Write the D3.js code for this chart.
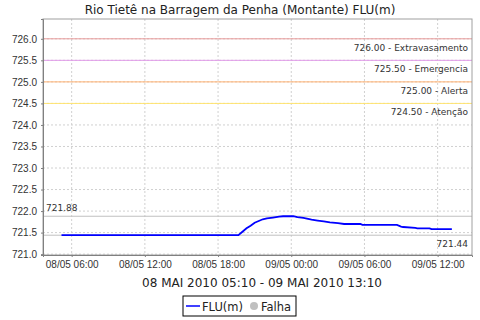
<!DOCTYPE html>
<html>
<head>
<meta charset="utf-8">
<script src="https://cdn.jsdelivr.net/npm/d3@7"></script>
<style>
  body { margin: 0; background: #fff; }
  svg { display: block; font-family: "DejaVu Sans", sans-serif; }
  .grid line { stroke: #d0d0d0; stroke-dasharray: 2,2; }
  .axis text { fill: #333; font-size: 10px; }
  .axis path, .axis line { stroke: #808080; }
</style>
</head>
<body>
<div id="chart"></div>
<script>
const TITLE = 'Rio Tietê na Barragem da Penha (Montante) FLU(m)';
const RANGE_LABEL = '08 MAI 2010 05:10 - 09 MAI 2010 13:10';

// FLU(m) readings (breakpoints)
const times = [
  '2010-05-08 05:10', '2010-05-08 19:40', '2010-05-08 20:00', '2010-05-08 20:20',
  '2010-05-08 20:40', '2010-05-08 21:00', '2010-05-08 21:20', '2010-05-08 21:40',
  '2010-05-08 22:00', '2010-05-08 22:30', '2010-05-08 23:00', '2010-05-08 23:20',
  '2010-05-09 00:10', '2010-05-09 00:30', '2010-05-09 01:00', '2010-05-09 01:40',
  '2010-05-09 02:10', '2010-05-09 02:40', '2010-05-09 03:10', '2010-05-09 03:50',
  '2010-05-09 04:20', '2010-05-09 05:40', '2010-05-09 05:50', '2010-05-09 08:40',
  '2010-05-09 09:00', '2010-05-09 09:10', '2010-05-09 10:10', '2010-05-09 10:20',
  '2010-05-09 11:20', '2010-05-09 11:30', '2010-05-09 13:10'
];
const levels = [
  721.44, 721.44, 721.52, 721.60,
  721.66, 721.73, 721.77, 721.81,
  721.83, 721.85, 721.87, 721.88,
  721.88, 721.86, 721.84, 721.80,
  721.78, 721.76, 721.74, 721.72,
  721.70, 721.70, 721.68, 721.68,
  721.64, 721.63, 721.61, 721.60,
  721.60, 721.58, 721.58
];

// alert thresholds
const thresholdValues = [726.00, 725.50, 725.00, 724.50];
const thresholdNames = ['Extravasamento', 'Emergencia', 'Alerta', 'Atenção'];
const thresholdColors = ['#e89a9a', '#e09ae8', '#ffb070', '#ffe470'];

const yTicks = [721.0, 721.5, 722.0, 722.5, 723.0, 723.5, 724.0, 724.5, 725.0, 725.5, 726.0];
const xTicks = ['2010-05-08 06:00', '2010-05-08 12:00', '2010-05-08 18:00',
                '2010-05-09 00:00', '2010-05-09 06:00', '2010-05-09 12:00'];
const xDomain = ['2010-05-08 03:39', '2010-05-09 14:49'];
const yDomain = [720.98, 726.46];

const W = 480, H = 320;
const plot = { left: 43, right: 472, top: 19, bottom: 255 };

const parse = d3.timeParse('%Y-%m-%d %H:%M');
const data = times.map((t, i) => ({ t: parse(t), v: levels[i] }));

const x = d3.scaleTime().domain(xDomain.map(parse)).range([plot.left, plot.right]);
const y = d3.scaleLinear().domain(yDomain).range([plot.bottom, plot.top]);

const svg = d3.select('#chart').append('svg').attr('width', W).attr('height', H);

// title
svg.append('text')
  .attr('x', 240).attr('y', 14)
  .attr('text-anchor', 'middle')
  .attr('font-size', 12)
  .attr('fill', '#222')
  .text(TITLE);

// gridlines
const grid = svg.append('g').attr('class', 'grid');
grid.selectAll('.gx').data(xTicks.map(parse)).enter().append('line')
  .attr('x1', d => x(d)).attr('x2', d => x(d))
  .attr('y1', plot.top).attr('y2', plot.bottom);
grid.selectAll('.gy').data(yTicks).enter().append('line')
  .attr('x1', plot.left).attr('x2', plot.right)
  .attr('y1', d => y(d)).attr('y2', d => y(d));

// threshold markers
const th = svg.append('g');
thresholdValues.forEach((v, i) => {
  th.append('line')
    .attr('x1', plot.left).attr('x2', plot.right)
    .attr('y1', y(v)).attr('y2', y(v))
    .attr('stroke', thresholdColors[i]);
  th.append('text')
    .attr('x', plot.right - 4).attr('y', y(v) + 12)
    .attr('text-anchor', 'end')
    .attr('font-size', 9)
    .attr('fill', '#333')
    .text(`${v.toFixed(2)} - ${thresholdNames[i]}`);
});

// max / min markers
const vMax = d3.max(levels), vMin = d3.min(levels);
[vMax, vMin].forEach(v => {
  svg.append('line')
    .attr('x1', plot.left).attr('x2', plot.right)
    .attr('y1', y(v)).attr('y2', y(v))
    .attr('stroke', '#c0c0c0');
});
svg.append('text')
  .attr('x', plot.left + 3).attr('y', y(vMax) - 5)
  .attr('font-size', 9).attr('fill', '#333')
  .text(vMax.toFixed(2));
svg.append('text')
  .attr('x', plot.right - 4).attr('y', y(vMin) + 12)
  .attr('text-anchor', 'end')
  .attr('font-size', 9).attr('fill', '#333')
  .text(vMin.toFixed(2));

// series
svg.append('path')
  .datum(data)
  .attr('fill', 'none')
  .attr('stroke', '#0000ff')
  .attr('stroke-width', 1.8)
  .attr('d', d3.line().x(d => x(d.t)).y(d => y(d.v)));

// plot frame
svg.append('rect')
  .attr('x', plot.left).attr('y', plot.top)
  .attr('width', plot.right - plot.left).attr('height', plot.bottom - plot.top)
  .attr('fill', 'none').attr('stroke', '#a0a0a0');

// axes
svg.append('g')
  .attr('class', 'axis')
  .attr('transform', `translate(${plot.left},0)`)
  .call(d3.axisLeft(y).tickValues(yTicks).tickFormat(d3.format('.1f')).tickSizeOuter(0).tickSize(2).tickPadding(4));
svg.append('g')
  .attr('class', 'axis')
  .attr('transform', `translate(0,${plot.bottom})`)
  .call(d3.axisBottom(x).tickValues(xTicks.map(parse)).tickFormat(d3.timeFormat('%d/%m %H:%M')).tickSizeOuter(0).tickSize(2).tickPadding(4));

svg.append('text')
  .attr('x', 262).attr('y', 287)
  .attr('text-anchor', 'middle')
  .attr('font-size', 12)
  .attr('fill', '#222')
  .text(RANGE_LABEL);

// legend
const lg = svg.append('g');
lg.append('rect')
  .attr('x', 183).attr('y', 296).attr('width', 113).attr('height', 20)
  .attr('fill', '#fff').attr('stroke', '#000');
lg.append('line')
  .attr('x1', 186).attr('x2', 200).attr('y1', 306).attr('y2', 306)
  .attr('stroke', '#0000ff').attr('stroke-width', 1.5);
lg.append('text')
  .attr('x', 202).attr('y', 310.5)
  .attr('font-size', 11.5).attr('fill', '#222')
  .text('FLU(m)');
lg.append('circle')
  .attr('cx', 254).attr('cy', 306).attr('r', 4)
  .attr('fill', '#c0c0c0');
lg.append('text')
  .attr('x', 261).attr('y', 310.5)
  .attr('font-size', 11.5).attr('fill', '#222')
  .text('Falha');
</script>
</body>
</html>
